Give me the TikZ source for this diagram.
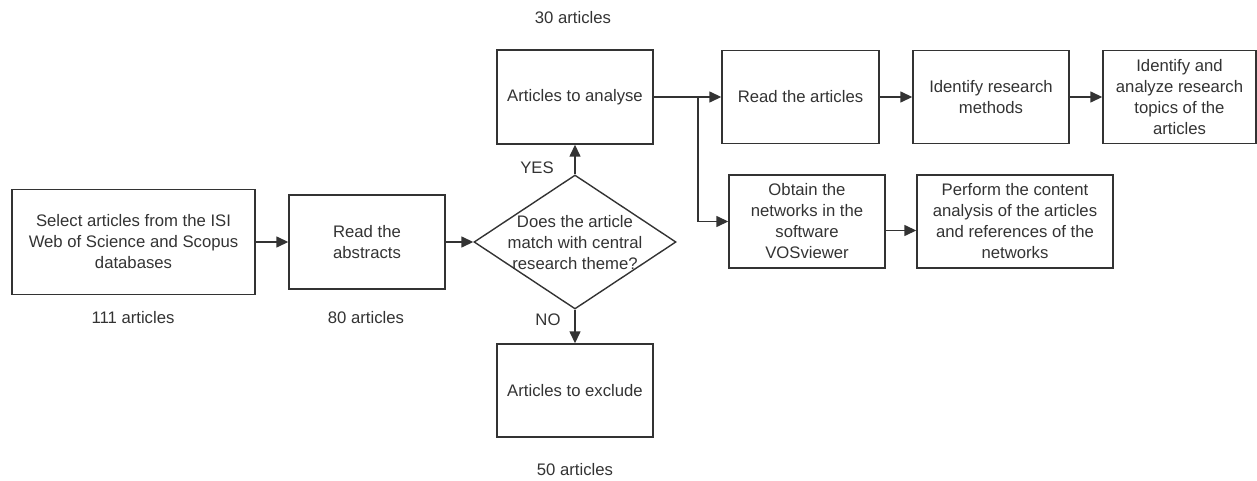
\documentclass[tikz,border=0pt]{standalone}
\usepackage{fontspec}
\setmainfont{Liberation Sans}
\usetikzlibrary{arrows.meta,shapes.geometric}
\definecolor{ink}{HTML}{333333}
\begin{document}
\begin{tikzpicture}[x=1pt,y=-1pt,
  every node/.style={font=\fontsize{16.7}{21}\selectfont, text=ink},
  box/.style={draw=ink, line width=1.4pt, rectangle, inner sep=0pt, align=center},
  lbl/.style={inner sep=0pt},
  arr/.style={draw=ink, line width=1.4pt, -{Triangle[length=12pt,width=11pt]}},
  ln/.style={draw=ink, line width=1.4pt}]
\useasboundingbox (0,0) rectangle (1257,481);
% boxes
\node[box, minimum width=243pt, minimum height=105pt] (sel) at (133.5,242) {Select articles from the ISI\\Web of Science and Scopus\\databases};
\node[box, minimum width=156pt, minimum height=94pt] (abs) at (367,242) {Read the\\abstracts};
\node[draw=ink, line width=1.4pt, diamond, minimum width=202pt, minimum height=134pt, inner sep=0pt] (dia) at (575,242) {};
\node[lbl, align=center] (diatxt) at (575,243) {Does the article\\match with central\\research theme?};
\node[box, minimum width=156pt, minimum height=94pt] (ana) at (575,97) {Articles to analyse};
\node[box, minimum width=156pt, minimum height=93pt] (exc) at (575,390.5) {Articles to exclude};
\node[box, minimum width=157pt, minimum height=93pt] (read) at (800.5,97) {Read the articles};
\node[box, minimum width=156pt, minimum height=93pt] (meth) at (991,97) {Identify research\\methods};
\node[box, minimum width=153pt, minimum height=93pt] (top) at (1179.5,97) {Identify and\\analyze research\\topics of the\\articles};
\node[box, minimum width=156pt, minimum height=93pt] (obt) at (807,221.5) {Obtain the\\networks in the\\software\\VOSviewer};
\node[box, minimum width=196pt, minimum height=93pt] (perf) at (1015,221.5) {Perform the content\\analysis of the articles\\and references of the\\networks};
% labels
\node[lbl] (n111) at (133,318) {111 articles};
\node[lbl] (n80) at (366,318) {80 articles};
\node[lbl] (n30) at (573,18) {30 articles};
\node[lbl] (n50) at (575,470) {50 articles};
\node[lbl] (yes) at (537,168) {YES};
\node[lbl] (no) at (548,320) {NO};
% connectors
\draw[arr] (sel.east) -- (abs.west);
\draw[arr] (abs.east) -- (dia.west);
\draw[arr] (dia.north) -- (ana.south);
\draw[arr] (dia.south) -- (exc.north);
\draw[arr] (ana.east) -- (read.west);
\coordinate (br) at (698,97);
\draw[arr] (br) |- (obt.west);
\draw[arr] (read.east) -- (meth.west);
\draw[arr] (meth.east) -- (top.west);
\draw[arr] ([yshift=-9pt]obt.east) -- ([yshift=-9pt]perf.west);
\end{tikzpicture}
\end{document}
